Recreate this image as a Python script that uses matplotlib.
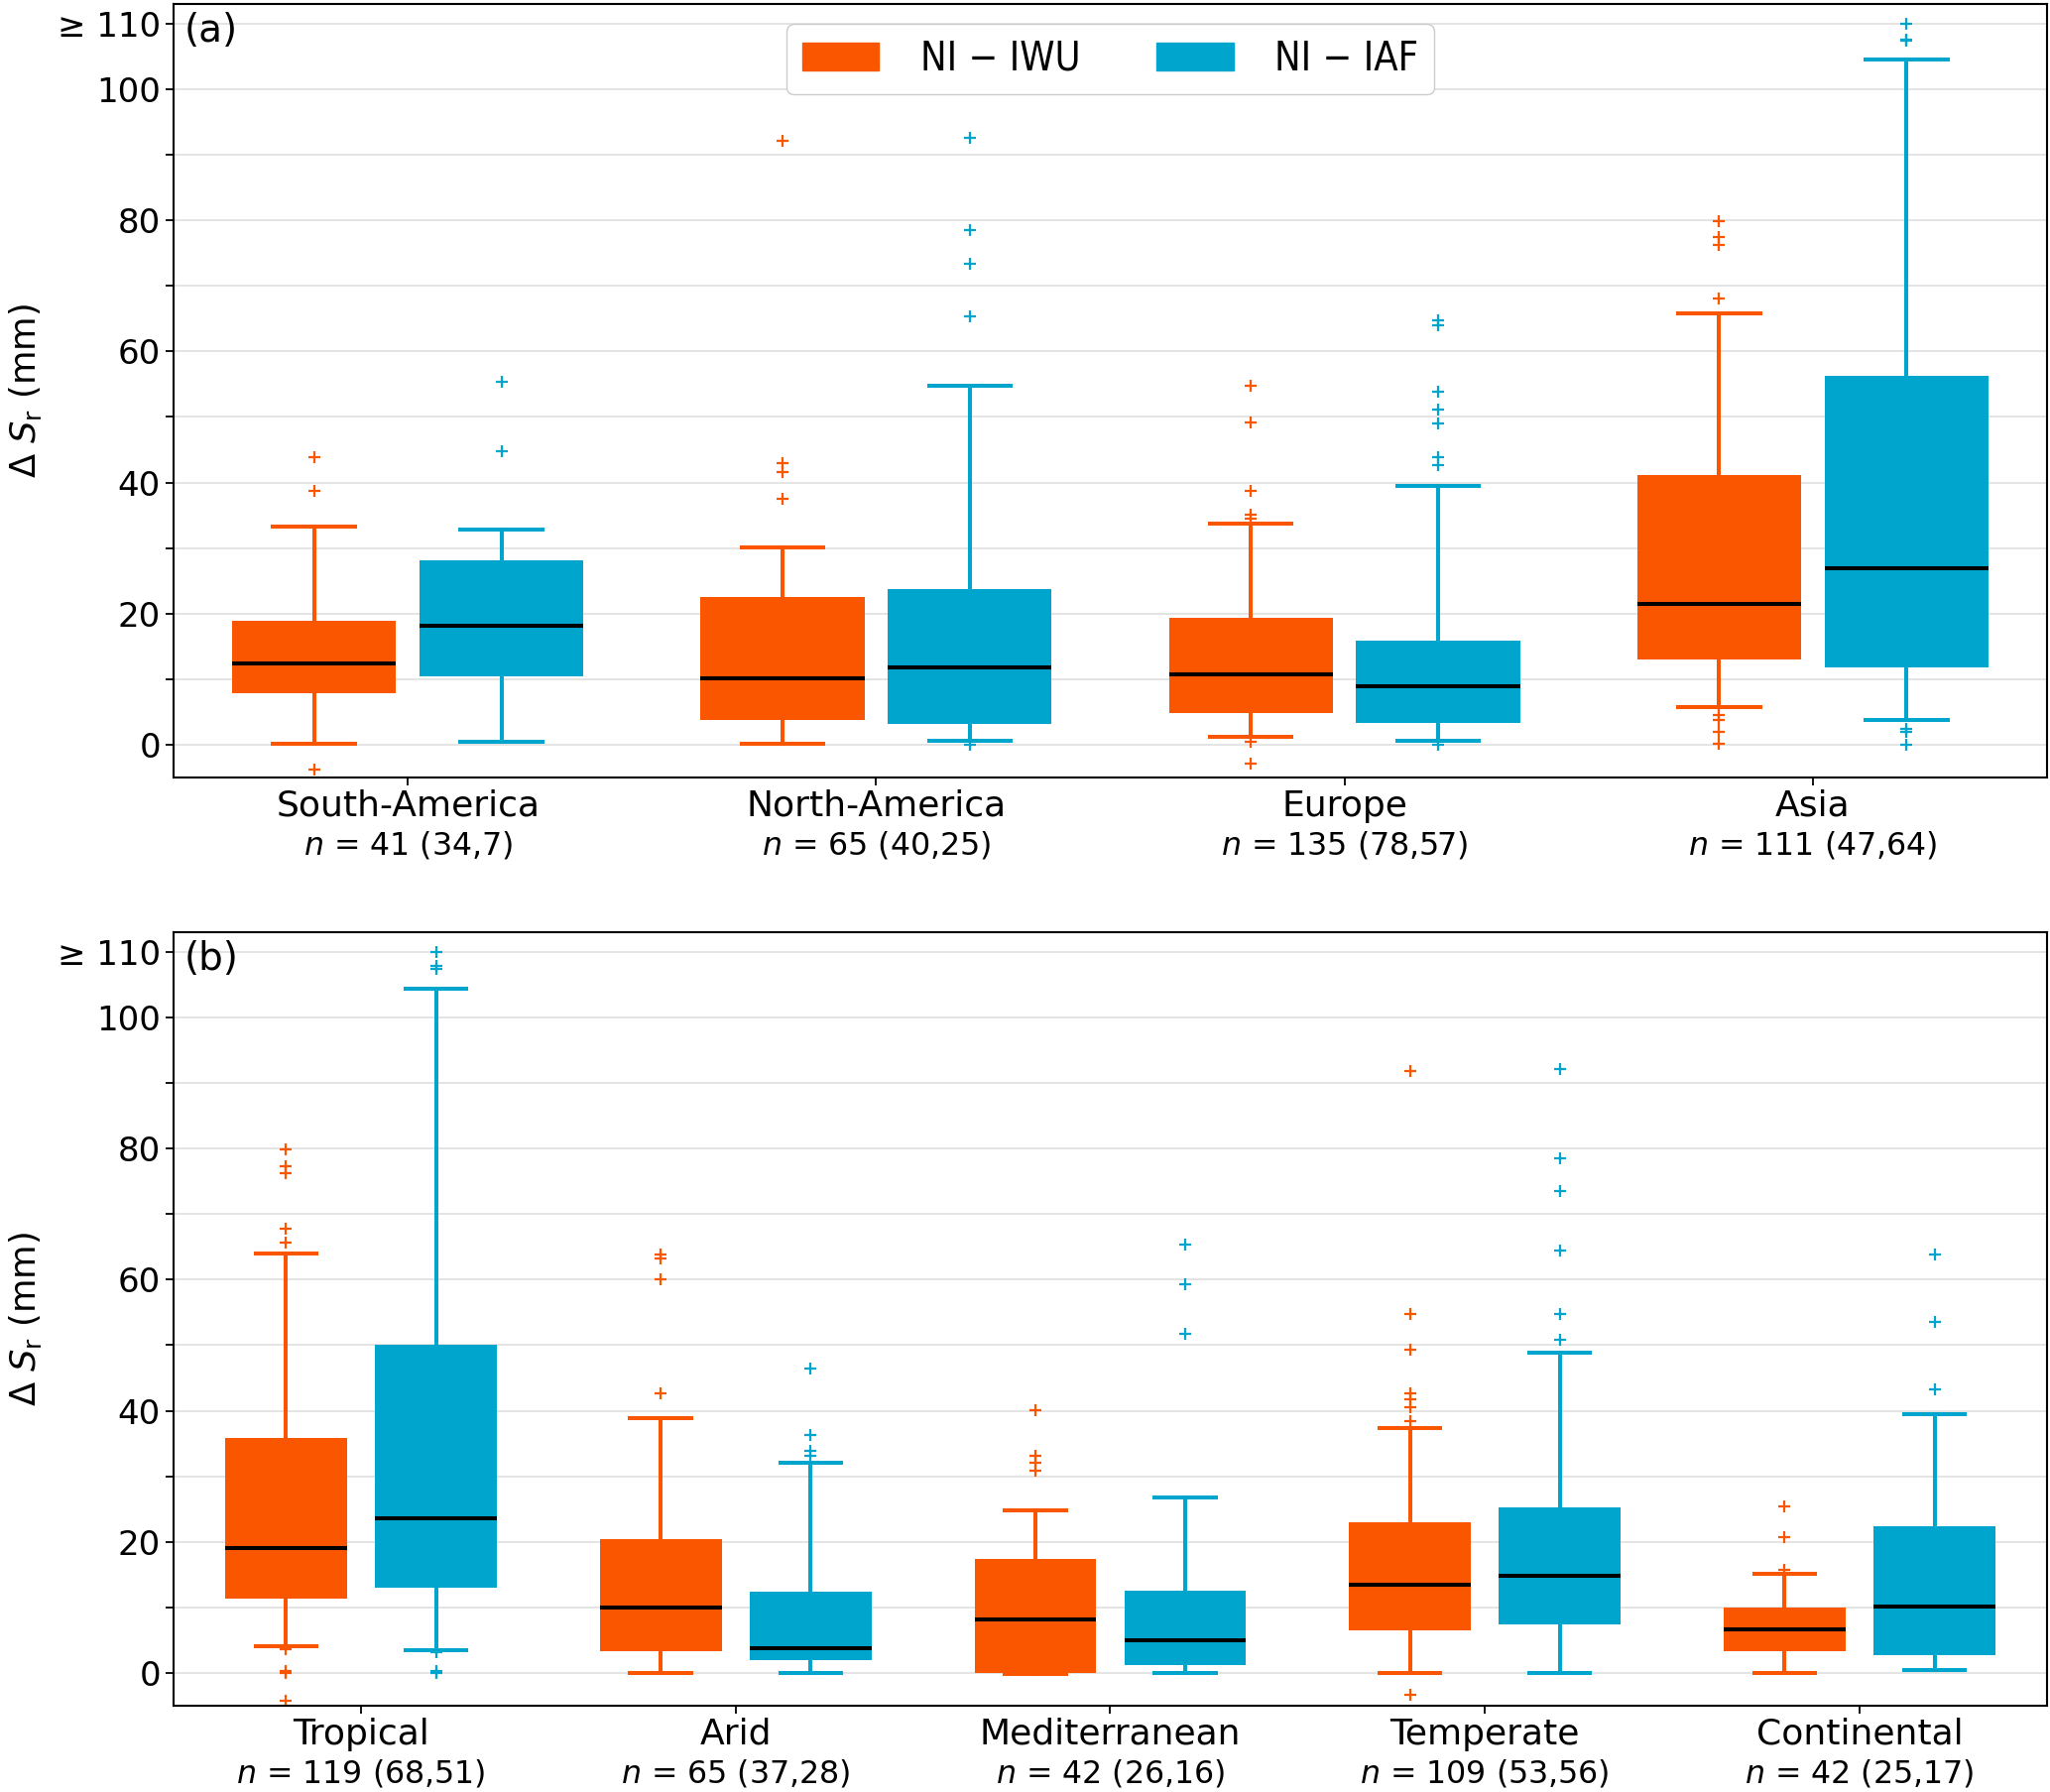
import matplotlib
matplotlib.use('Agg')
import matplotlib.pyplot as plt
from matplotlib.patches import Patch
from matplotlib.font_manager import FontProperties

ORANGE = '#fa5600'
BLUE = '#00a5cd'

# ---------------- panel (a): continents ----------------
top_categories = ['South-America', 'North-America', 'Europe', 'Asia']
top_counts = ['41 (34,7)', '65 (40,25)', '135 (78,57)', '111 (47,64)']

# NI - IWU
top_iwu_whislo = [0.2, 0.2, 1.2, 5.8]
top_iwu_q1 = [7.8, 3.8, 4.8, 13.0]
top_iwu_med = [12.4, 10.2, 10.8, 21.5]
top_iwu_q3 = [18.9, 22.5, 19.3, 41.1]
top_iwu_whishi = [33.3, 30.1, 33.7, 65.8]
top_iwu_fliers = [
    [43.8, 38.7, -3.8],
    [92.1, 43.0, 41.6, 37.5],
    [54.8, 49.2, 38.7, 35.1, 34.5, 0.4, -2.8],
    [79.9, 77.5, 76.3, 68.0, 4.6, 3.8, 2.0, 0.2],
]

# NI - IAF
top_iaf_whislo = [0.4, 0.6, 0.6, 3.8]
top_iaf_q1 = [10.4, 3.2, 3.4, 11.8]
top_iaf_med = [18.1, 11.8, 9.0, 26.9]
top_iaf_q3 = [28.1, 23.7, 15.9, 56.2]
top_iaf_whishi = [32.9, 54.8, 39.5, 104.5]
top_iaf_fliers = [
    [55.4, 44.8],
    [92.5, 78.5, 73.3, 65.4, 0.0],
    [64.8, 64.0, 53.8, 51.2, 49.0, 43.8, 42.6, 0.0],
    [110.0, 107.6, 107.4, 2.4, 2.0, 0.0],
]

# ---------------- panel (b): climates ----------------
bot_categories = ['Tropical', 'Arid', 'Mediterranean', 'Temperate', 'Continental']
bot_counts = ['119 (68,51)', '65 (37,28)', '42 (26,16)', '109 (53,56)', '42 (25,17)']

bot_iwu_whislo = [4.1, 0.0, -0.1, 0.0, 0.0]
bot_iwu_q1 = [11.3, 3.4, 0.0, 6.5, 3.4]
bot_iwu_med = [19.1, 10.0, 8.2, 13.4, 6.6]
bot_iwu_q3 = [35.9, 20.4, 17.4, 23.0, 10.0]
bot_iwu_whishi = [64.0, 38.9, 24.8, 37.3, 15.2]
bot_iwu_fliers = [
    [79.8, 77.3, 76.2, 67.7, 65.6, 3.7, 0.3, 0.0, -4.2],
    [63.9, 63.3, 60.1, 42.7],
    [40.1, 33.1, 32.1, 30.9],
    [91.8, 54.7, 49.3, 42.7, 41.7, 40.5, 38.5, -3.3],
    [25.4, 20.8, 15.8],
]

bot_iaf_whislo = [3.5, 0.0, 0.0, 0.0, 0.4]
bot_iaf_q1 = [13.0, 2.0, 1.2, 7.4, 2.8]
bot_iaf_med = [23.6, 3.8, 5.0, 14.8, 10.2]
bot_iaf_q3 = [50.0, 12.4, 12.6, 25.2, 22.4]
bot_iaf_whishi = [104.4, 32.1, 26.8, 48.9, 39.5]
bot_iaf_fliers = [
    [110.0, 107.8, 107.4, 3.2, 0.3, 0.0],
    [46.5, 36.3, 33.9, 33.1],
    [65.3, 59.3, 51.7],
    [92.2, 78.5, 73.5, 64.5, 54.7, 50.9],
    [63.9, 53.5, 43.3],
]

yticks = list(range(0, 111, 10))
yticklabels = ['0', '', '20', '', '40', '', '60', '', '80', '', '100', '≥ 110']

FS_TICK = 24.5
FS_CAT = 26
FS_N = 22.8
LW = 2.9


def make_stats(whislo, q1, med, q3, whishi, fliers):
    return [dict(whislo=a, q1=b, med=c, q3=d, whishi=e, fliers=f)
            for a, b, c, d, e, f in zip(whislo, q1, med, q3, whishi, fliers)]


def draw_series(ax, stats, positions, width, color):
    ax.bxp(stats, positions=positions, widths=width, capwidths=width / 2,
           patch_artist=True, manage_ticks=False, showfliers=True,
           boxprops=dict(facecolor=color, edgecolor=color, linewidth=0),
           whiskerprops=dict(color=color, linewidth=LW),
           capprops=dict(color=color, linewidth=LW),
           medianprops=dict(color='black', linewidth=LW),
           flierprops=dict(marker='+', markeredgecolor=color, markerfacecolor=color,
                           markersize=9, markeredgewidth=1.6, linestyle='none'))


def setup_axis(ax, categories, counts, label):
    n = len(categories)
    ax.set_xlim(-0.5, n - 0.5)
    ax.set_ylim(-5, 113)
    ax.set_xticks(range(n))
    ax.set_xticklabels(categories, fontsize=FS_CAT)
    ax.set_yticks(yticks)
    ax.set_yticklabels(yticklabels, fontsize=FS_TICK)
    ax.tick_params(axis='both', length=6, width=1.3)
    ax.tick_params(axis='x', pad=2.5)
    ax.yaxis.grid(True, color='#e2e2e2', linewidth=1.3)
    ax.set_axisbelow(True)
    for s in ax.spines.values():
        s.set_linewidth(1.5)
    ax.set_ylabel('Δ $S_\\mathrm{r}$ (mm)', fontsize=25.5, labelpad=10)
    ax.text(0.0055, 0.99, label, transform=ax.transAxes, ha='left', va='top',
            fontsize=28)
    trans = ax.get_xaxis_transform()
    for i, k in enumerate(counts):
        ax.annotate(f'$n$ = {k}', xy=(i, 0), xycoords=trans,
                    xytext=(0, -56), textcoords='offset points',
                    ha='center', va='baseline', fontsize=FS_N,
                    annotation_clip=False)


fig = plt.figure(figsize=(20.67, 18.07), dpi=100)
ax1 = fig.add_axes([0.0847, 0.5661, 0.9138, 0.4317])
ax2 = fig.add_axes([0.0847, 0.0481, 0.9138, 0.4317])

# panel (a)
w1 = 0.35
pos = range(len(top_categories))
draw_series(ax1, make_stats(top_iwu_whislo, top_iwu_q1, top_iwu_med, top_iwu_q3,
                            top_iwu_whishi, top_iwu_fliers),
            [p - 0.2 for p in pos], w1, ORANGE)
draw_series(ax1, make_stats(top_iaf_whislo, top_iaf_q1, top_iaf_med, top_iaf_q3,
                            top_iaf_whishi, top_iaf_fliers),
            [p + 0.2 for p in pos], w1, BLUE)
setup_axis(ax1, top_categories, top_counts, '(a)')

handles = [Patch(facecolor=ORANGE, edgecolor=ORANGE, label='NI − IWU'),
           Patch(facecolor=BLUE, edgecolor=BLUE, label='NI − IAF')]
legprop = FontProperties(family='DejaVu Sans', stretch='condensed', size=28.5)
ax1.legend(handles=handles, loc='upper center', ncol=2, prop=legprop,
           handlelength=1.95, handleheight=0.7, handletextpad=1.05, columnspacing=1.95,
           borderaxespad=0.5, framealpha=1, edgecolor='#cccccc')

# panel (b)
w2 = 0.325
pos = range(len(bot_categories))
draw_series(ax2, make_stats(bot_iwu_whislo, bot_iwu_q1, bot_iwu_med, bot_iwu_q3,
                            bot_iwu_whishi, bot_iwu_fliers),
            [p - 0.2 for p in pos], w2, ORANGE)
draw_series(ax2, make_stats(bot_iaf_whislo, bot_iaf_q1, bot_iaf_med, bot_iaf_q3,
                            bot_iaf_whishi, bot_iaf_fliers),
            [p + 0.2 for p in pos], w2, BLUE)
setup_axis(ax2, bot_categories, bot_counts, '(b)')

fig.savefig('out.png', dpi=100)
